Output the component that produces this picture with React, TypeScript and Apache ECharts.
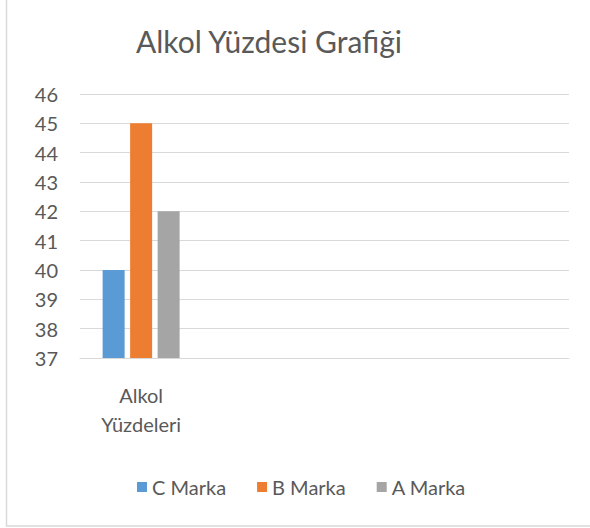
import React, { useEffect, useRef } from "react";
import * as echarts from "echarts";

const title = "Alkol Yüzdesi Grafiği";
const categories = ["Alkol\nYüzdeleri", "", "", ""];
const seriesNames = ["C Marka", "B Marka", "A Marka"];
const cValues = [40, null, null, null];
const bValues = [45, null, null, null];
const aValues = [42, null, null, null];
const colors = ["#5b9bd5", "#ed7d31", "#a5a5a5"];
const yMin = 37;
const yMax = 46;

const FONT = "Lato";

export default function App() {
  const ref = useRef<HTMLDivElement>(null);
  useEffect(() => {
    document.body.style.margin = "0";
    const chart = echarts.init(ref.current!, null, { renderer: "svg" });
    const values = [cValues, bValues, aValues];
    chart.setOption({
      animation: false,
      backgroundColor: "#ffffff",
      graphic: [
        {
          type: "rect",
          shape: { x: 6.5, y: -1, width: 600, height: 527 },
          style: { fill: "none", stroke: "#d9d9d9", lineWidth: 1.5 },
          silent: true,
          z: -1,
        },
      ],
      title: {
        text: title,
        left: 264,
        textAlign: "center",
        top: 21,
        textStyle: {
          fontFamily: FONT,
          fontSize: 30,
          fontWeight: "normal",
          color: "#595959",
        },
      },
      legend: {
        data: seriesNames,
        top: 472,
        left: 132,
        itemWidth: 10,
        itemHeight: 10,
        itemGap: 31,
        icon: "rect",
        textStyle: { fontFamily: FONT, fontSize: 20, color: "#595959" },
      },
      grid: { left: 80, right: 21, top: 94, bottom: 170, containLabel: false },
      xAxis: {
        type: "category",
        data: categories,
        axisLine: { lineStyle: { color: "#d9d9d9" } },
        axisTick: { show: false },
        axisLabel: {
          fontFamily: FONT,
          fontSize: 20,
          color: "#595959",
          lineHeight: 29,
          margin: 22,
          interval: 0,
        },
      },
      yAxis: {
        type: "value",
        min: yMin,
        max: yMax,
        interval: 1,
        axisLine: { show: false },
        axisTick: { show: false },
        splitLine: { lineStyle: { color: "#d9d9d9", width: 1 } },
        axisLabel: {
          fontFamily: FONT,
          fontSize: 20,
          color: "#595959",
          margin: 22,
        },
      },
      series: seriesNames.map((name, i) => ({
        name,
        type: "bar",
        data: values[i],
        barWidth: 22,
        barGap: "25%",
        itemStyle: { color: colors[i] },
      })),
    });
    return () => chart.dispose();
  }, []);
  return <div ref={ref} style={{ width: 590, height: 528 }} />;
}
